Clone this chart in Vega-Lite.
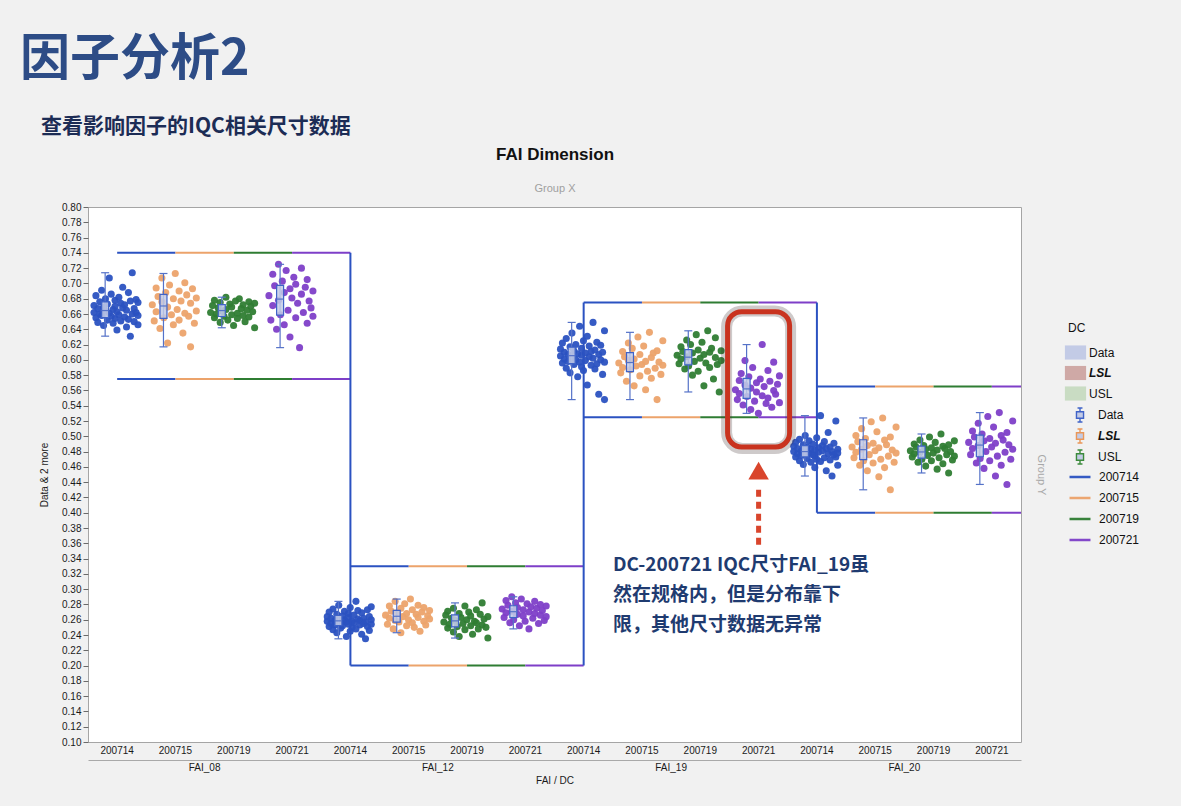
{
  "$schema": "https://vega.github.io/schema/vega-lite/v6.json",
  "width": 933,
  "height": 535,
  "autosize": {"type": "none"},
  "padding": {"left": 88, "top": 207, "right": 160, "bottom": 64},
  "background": "#f1f1f1",
  "title": {
    "text": "因子分析2",
    "subtitle": "\u200b\u3000查看影响因子的IQC相关尺寸数据",
    "anchor": "start",
    "frame": "group",
    "dx": -68,
    "offset": 8,
    "font": "Noto Sans CJK SC",
    "fontSize": 50,
    "fontWeight": "bold",
    "color": "#2d4c86",
    "subtitleFont": "Noto Sans CJK SC",
    "subtitleFontSize": 21,
    "subtitleFontWeight": "bold",
    "subtitleColor": "#1c2c55",
    "subtitlePadding": 31
  },
  "datasets": {
    "spec": [
      {"c": "FAI_08 200714", "usl": 0.74, "lsl": 0.575},
      {"c": "FAI_08 200715", "usl": 0.74, "lsl": 0.575},
      {"c": "FAI_08 200719", "usl": 0.74, "lsl": 0.575},
      {"c": "FAI_08 200721", "usl": 0.74, "lsl": 0.575},
      {"c": "FAI_12 200714", "usl": 0.33, "lsl": 0.2},
      {"c": "FAI_12 200715", "usl": 0.33, "lsl": 0.2},
      {"c": "FAI_12 200719", "usl": 0.33, "lsl": 0.2},
      {"c": "FAI_12 200721", "usl": 0.33, "lsl": 0.2},
      {"c": "FAI_19 200714", "usl": 0.675, "lsl": 0.525},
      {"c": "FAI_19 200715", "usl": 0.675, "lsl": 0.525},
      {"c": "FAI_19 200719", "usl": 0.675, "lsl": 0.525},
      {"c": "FAI_19 200721", "usl": 0.675, "lsl": 0.525},
      {"c": "FAI_20 200714", "usl": 0.565, "lsl": 0.4},
      {"c": "FAI_20 200715", "usl": 0.565, "lsl": 0.4},
      {"c": "FAI_20 200719", "usl": 0.565, "lsl": 0.4},
      {"c": "FAI_20 200721", "usl": 0.565, "lsl": 0.4}
    ],
    "conn": [
      {"f": "FAI_12", "a": 0.74, "b": 0.2},
      {"f": "FAI_19", "a": 0.675, "b": 0.2},
      {"f": "FAI_20", "a": 0.675, "b": 0.4}
    ],
    "pts": [
      {"c":"FAI_08 200714","v":0.662},{"c":"FAI_08 200714","v":0.671},{"c":"FAI_08 200714","v":0.655},{"c":"FAI_08 200714","v":0.684},{"c":"FAI_08 200714","v":0.667},
      {"c":"FAI_08 200714","v":0.649},{"c":"FAI_08 200714","v":0.676},{"c":"FAI_08 200714","v":0.660},{"c":"FAI_08 200714","v":0.691},{"c":"FAI_08 200714","v":0.658},
      {"c":"FAI_08 200714","v":0.669},{"c":"FAI_08 200714","v":0.645},{"c":"FAI_08 200714","v":0.680},{"c":"FAI_08 200714","v":0.664},{"c":"FAI_08 200714","v":0.652},
      {"c":"FAI_08 200714","v":0.673},{"c":"FAI_08 200714","v":0.707},{"c":"FAI_08 200714","v":0.661},{"c":"FAI_08 200714","v":0.657},{"c":"FAI_08 200714","v":0.686},
      {"c":"FAI_08 200714","v":0.648},{"c":"FAI_08 200714","v":0.666},{"c":"FAI_08 200714","v":0.678},{"c":"FAI_08 200714","v":0.654},{"c":"FAI_08 200714","v":0.670},
      {"c":"FAI_08 200714","v":0.639},{"c":"FAI_08 200714","v":0.663},{"c":"FAI_08 200714","v":0.682},{"c":"FAI_08 200714","v":0.659},{"c":"FAI_08 200714","v":0.674},
      {"c":"FAI_08 200714","v":0.651},{"c":"FAI_08 200714","v":0.668},{"c":"FAI_08 200714","v":0.695},{"c":"FAI_08 200714","v":0.656},{"c":"FAI_08 200714","v":0.672},
      {"c":"FAI_08 200714","v":0.643},{"c":"FAI_08 200714","v":0.665},{"c":"FAI_08 200714","v":0.688},{"c":"FAI_08 200714","v":0.653},{"c":"FAI_08 200714","v":0.677},
      {"c":"FAI_08 200714","v":0.631},{"c":"FAI_08 200714","v":0.660},{"c":"FAI_08 200714","v":0.714},{"c":"FAI_08 200714","v":0.667},{"c":"FAI_08 200714","v":0.650},
      {"c":"FAI_08 200714","v":0.679},{"c":"FAI_08 200714","v":0.662},{"c":"FAI_08 200714","v":0.646},{"c":"FAI_08 200714","v":0.675},{"c":"FAI_08 200714","v":0.658},
      {"c":"FAI_08 200715","v":0.672},{"c":"FAI_08 200715","v":0.651},{"c":"FAI_08 200715","v":0.694},{"c":"FAI_08 200715","v":0.663},{"c":"FAI_08 200715","v":0.683},
      {"c":"FAI_08 200715","v":0.641},{"c":"FAI_08 200715","v":0.707},{"c":"FAI_08 200715","v":0.676},{"c":"FAI_08 200715","v":0.655},{"c":"FAI_08 200715","v":0.688},
      {"c":"FAI_08 200715","v":0.622},{"c":"FAI_08 200715","v":0.669},{"c":"FAI_08 200715","v":0.698},{"c":"FAI_08 200715","v":0.659},{"c":"FAI_08 200715","v":0.680},
      {"c":"FAI_08 200715","v":0.646},{"c":"FAI_08 200715","v":0.713},{"c":"FAI_08 200715","v":0.666},{"c":"FAI_08 200715","v":0.690},{"c":"FAI_08 200715","v":0.652},
      {"c":"FAI_08 200715","v":0.677},{"c":"FAI_08 200715","v":0.635},{"c":"FAI_08 200715","v":0.701},{"c":"FAI_08 200715","v":0.661},{"c":"FAI_08 200715","v":0.685},
      {"c":"FAI_08 200715","v":0.657},{"c":"FAI_08 200715","v":0.617},{"c":"FAI_08 200715","v":0.674},{"c":"FAI_08 200715","v":0.693},{"c":"FAI_08 200715","v":0.648},
      {"c":"FAI_08 200715","v":0.681},{"c":"FAI_08 200715","v":0.664},
      {"c":"FAI_08 200719","v":0.662},{"c":"FAI_08 200719","v":0.671},{"c":"FAI_08 200719","v":0.655},{"c":"FAI_08 200719","v":0.678},{"c":"FAI_08 200719","v":0.660},
      {"c":"FAI_08 200719","v":0.668},{"c":"FAI_08 200719","v":0.649},{"c":"FAI_08 200719","v":0.675},{"c":"FAI_08 200719","v":0.664},{"c":"FAI_08 200719","v":0.657},
      {"c":"FAI_08 200719","v":0.682},{"c":"FAI_08 200719","v":0.666},{"c":"FAI_08 200719","v":0.652},{"c":"FAI_08 200719","v":0.673},{"c":"FAI_08 200719","v":0.659},
      {"c":"FAI_08 200719","v":0.669},{"c":"FAI_08 200719","v":0.645},{"c":"FAI_08 200719","v":0.677},{"c":"FAI_08 200719","v":0.661},{"c":"FAI_08 200719","v":0.654},
      {"c":"FAI_08 200719","v":0.680},{"c":"FAI_08 200719","v":0.667},{"c":"FAI_08 200719","v":0.658},{"c":"FAI_08 200719","v":0.672},{"c":"FAI_08 200719","v":0.650},
      {"c":"FAI_08 200719","v":0.665},{"c":"FAI_08 200719","v":0.676},{"c":"FAI_08 200719","v":0.656},{"c":"FAI_08 200719","v":0.670},{"c":"FAI_08 200719","v":0.663},
      {"c":"FAI_08 200719","v":0.642},{"c":"FAI_08 200719","v":0.674},
      {"c":"FAI_08 200721","v":0.684},{"c":"FAI_08 200721","v":0.652},{"c":"FAI_08 200721","v":0.712},{"c":"FAI_08 200721","v":0.671},{"c":"FAI_08 200721","v":0.697},
      {"c":"FAI_08 200721","v":0.640},{"c":"FAI_08 200721","v":0.725},{"c":"FAI_08 200721","v":0.678},{"c":"FAI_08 200721","v":0.659},{"c":"FAI_08 200721","v":0.703},
      {"c":"FAI_08 200721","v":0.688},{"c":"FAI_08 200721","v":0.646},{"c":"FAI_08 200721","v":0.717},{"c":"FAI_08 200721","v":0.665},{"c":"FAI_08 200721","v":0.693},
      {"c":"FAI_08 200721","v":0.630},{"c":"FAI_08 200721","v":0.681},{"c":"FAI_08 200721","v":0.708},{"c":"FAI_08 200721","v":0.655},{"c":"FAI_08 200721","v":0.699},
      {"c":"FAI_08 200721","v":0.674},{"c":"FAI_08 200721","v":0.616},{"c":"FAI_08 200721","v":0.720},{"c":"FAI_08 200721","v":0.686},{"c":"FAI_08 200721","v":0.662},
      {"c":"FAI_08 200721","v":0.695},{"c":"FAI_08 200721","v":0.648},{"c":"FAI_08 200721","v":0.705},{"c":"FAI_08 200721","v":0.677},{"c":"FAI_08 200721","v":0.668},
      {"c":"FAI_08 200721","v":0.690},{"c":"FAI_08 200721","v":0.657},
      {"c":"FAI_12 200714","v":0.258},{"c":"FAI_12 200714","v":0.264},{"c":"FAI_12 200714","v":0.251},{"c":"FAI_12 200714","v":0.270},{"c":"FAI_12 200714","v":0.255},
      {"c":"FAI_12 200714","v":0.262},{"c":"FAI_12 200714","v":0.247},{"c":"FAI_12 200714","v":0.274},{"c":"FAI_12 200714","v":0.259},{"c":"FAI_12 200714","v":0.253},
      {"c":"FAI_12 200714","v":0.267},{"c":"FAI_12 200714","v":0.243},{"c":"FAI_12 200714","v":0.261},{"c":"FAI_12 200714","v":0.279},{"c":"FAI_12 200714","v":0.256},
      {"c":"FAI_12 200714","v":0.249},{"c":"FAI_12 200714","v":0.265},{"c":"FAI_12 200714","v":0.252},{"c":"FAI_12 200714","v":0.271},{"c":"FAI_12 200714","v":0.260},
      {"c":"FAI_12 200714","v":0.238},{"c":"FAI_12 200714","v":0.257},{"c":"FAI_12 200714","v":0.268},{"c":"FAI_12 200714","v":0.254},{"c":"FAI_12 200714","v":0.263},
      {"c":"FAI_12 200714","v":0.245},{"c":"FAI_12 200714","v":0.276},{"c":"FAI_12 200714","v":0.258},{"c":"FAI_12 200714","v":0.250},{"c":"FAI_12 200714","v":0.266},
      {"c":"FAI_12 200714","v":0.256},{"c":"FAI_12 200714","v":0.284},{"c":"FAI_12 200714","v":0.248},{"c":"FAI_12 200714","v":0.261},{"c":"FAI_12 200714","v":0.272},
      {"c":"FAI_12 200714","v":0.253},{"c":"FAI_12 200714","v":0.259},{"c":"FAI_12 200714","v":0.241},{"c":"FAI_12 200714","v":0.269},{"c":"FAI_12 200714","v":0.255},
      {"c":"FAI_12 200714","v":0.262},{"c":"FAI_12 200714","v":0.235},{"c":"FAI_12 200714","v":0.257},{"c":"FAI_12 200714","v":0.273},{"c":"FAI_12 200714","v":0.251},
      {"c":"FAI_12 200714","v":0.264},{"c":"FAI_12 200714","v":0.246},{"c":"FAI_12 200714","v":0.260},{"c":"FAI_12 200714","v":0.277},{"c":"FAI_12 200714","v":0.254},
      {"c":"FAI_12 200715","v":0.266},{"c":"FAI_12 200715","v":0.254},{"c":"FAI_12 200715","v":0.278},{"c":"FAI_12 200715","v":0.262},{"c":"FAI_12 200715","v":0.271},
      {"c":"FAI_12 200715","v":0.248},{"c":"FAI_12 200715","v":0.284},{"c":"FAI_12 200715","v":0.259},{"c":"FAI_12 200715","v":0.269},{"c":"FAI_12 200715","v":0.257},
      {"c":"FAI_12 200715","v":0.275},{"c":"FAI_12 200715","v":0.243},{"c":"FAI_12 200715","v":0.264},{"c":"FAI_12 200715","v":0.281},{"c":"FAI_12 200715","v":0.252},
      {"c":"FAI_12 200715","v":0.268},{"c":"FAI_12 200715","v":0.260},{"c":"FAI_12 200715","v":0.287},{"c":"FAI_12 200715","v":0.256},{"c":"FAI_12 200715","v":0.273},
      {"c":"FAI_12 200715","v":0.250},{"c":"FAI_12 200715","v":0.267},{"c":"FAI_12 200715","v":0.263},{"c":"FAI_12 200715","v":0.279},{"c":"FAI_12 200715","v":0.245},
      {"c":"FAI_12 200715","v":0.270},{"c":"FAI_12 200715","v":0.258},{"c":"FAI_12 200715","v":0.276},{"c":"FAI_12 200715","v":0.253},{"c":"FAI_12 200715","v":0.265},
      {"c":"FAI_12 200715","v":0.261},{"c":"FAI_12 200715","v":0.272},
      {"c":"FAI_12 200719","v":0.257},{"c":"FAI_12 200719","v":0.266},{"c":"FAI_12 200719","v":0.249},{"c":"FAI_12 200719","v":0.271},{"c":"FAI_12 200719","v":0.254},
      {"c":"FAI_12 200719","v":0.262},{"c":"FAI_12 200719","v":0.244},{"c":"FAI_12 200719","v":0.275},{"c":"FAI_12 200719","v":0.259},{"c":"FAI_12 200719","v":0.251},
      {"c":"FAI_12 200719","v":0.268},{"c":"FAI_12 200719","v":0.238},{"c":"FAI_12 200719","v":0.263},{"c":"FAI_12 200719","v":0.255},{"c":"FAI_12 200719","v":0.278},
      {"c":"FAI_12 200719","v":0.247},{"c":"FAI_12 200719","v":0.260},{"c":"FAI_12 200719","v":0.270},{"c":"FAI_12 200719","v":0.252},{"c":"FAI_12 200719","v":0.265},
      {"c":"FAI_12 200719","v":0.241},{"c":"FAI_12 200719","v":0.258},{"c":"FAI_12 200719","v":0.273},{"c":"FAI_12 200719","v":0.256},{"c":"FAI_12 200719","v":0.248},
      {"c":"FAI_12 200719","v":0.267},{"c":"FAI_12 200719","v":0.253},{"c":"FAI_12 200719","v":0.282},{"c":"FAI_12 200719","v":0.261},{"c":"FAI_12 200719","v":0.250},
      {"c":"FAI_12 200719","v":0.264},{"c":"FAI_12 200719","v":0.236},
      {"c":"FAI_12 200721","v":0.274},{"c":"FAI_12 200721","v":0.263},{"c":"FAI_12 200721","v":0.285},{"c":"FAI_12 200721","v":0.269},{"c":"FAI_12 200721","v":0.279},
      {"c":"FAI_12 200721","v":0.256},{"c":"FAI_12 200721","v":0.290},{"c":"FAI_12 200721","v":0.271},{"c":"FAI_12 200721","v":0.260},{"c":"FAI_12 200721","v":0.282},
      {"c":"FAI_12 200721","v":0.267},{"c":"FAI_12 200721","v":0.276},{"c":"FAI_12 200721","v":0.252},{"c":"FAI_12 200721","v":0.287},{"c":"FAI_12 200721","v":0.265},
      {"c":"FAI_12 200721","v":0.273},{"c":"FAI_12 200721","v":0.258},{"c":"FAI_12 200721","v":0.281},{"c":"FAI_12 200721","v":0.270},{"c":"FAI_12 200721","v":0.248},
      {"c":"FAI_12 200721","v":0.277},{"c":"FAI_12 200721","v":0.262},{"c":"FAI_12 200721","v":0.284},{"c":"FAI_12 200721","v":0.268},{"c":"FAI_12 200721","v":0.275},
      {"c":"FAI_12 200721","v":0.255},{"c":"FAI_12 200721","v":0.280},{"c":"FAI_12 200721","v":0.266},{"c":"FAI_12 200721","v":0.272},{"c":"FAI_12 200721","v":0.259},
      {"c":"FAI_12 200721","v":0.278},{"c":"FAI_12 200721","v":0.264},
      {"c":"FAI_19 200714","v":0.605},{"c":"FAI_19 200714","v":0.614},{"c":"FAI_19 200714","v":0.596},{"c":"FAI_19 200714","v":0.622},{"c":"FAI_19 200714","v":0.601},
      {"c":"FAI_19 200714","v":0.610},{"c":"FAI_19 200714","v":0.589},{"c":"FAI_19 200714","v":0.628},{"c":"FAI_19 200714","v":0.607},{"c":"FAI_19 200714","v":0.598},
      {"c":"FAI_19 200714","v":0.617},{"c":"FAI_19 200714","v":0.583},{"c":"FAI_19 200714","v":0.603},{"c":"FAI_19 200714","v":0.635},{"c":"FAI_19 200714","v":0.594},
      {"c":"FAI_19 200714","v":0.612},{"c":"FAI_19 200714","v":0.600},{"c":"FAI_19 200714","v":0.620},{"c":"FAI_19 200714","v":0.578},{"c":"FAI_19 200714","v":0.608},
      {"c":"FAI_19 200714","v":0.644},{"c":"FAI_19 200714","v":0.597},{"c":"FAI_19 200714","v":0.615},{"c":"FAI_19 200714","v":0.591},{"c":"FAI_19 200714","v":0.606},
      {"c":"FAI_19 200714","v":0.625},{"c":"FAI_19 200714","v":0.586},{"c":"FAI_19 200714","v":0.609},{"c":"FAI_19 200714","v":0.599},{"c":"FAI_19 200714","v":0.631},
      {"c":"FAI_19 200714","v":0.567},{"c":"FAI_19 200714","v":0.604},{"c":"FAI_19 200714","v":0.618},{"c":"FAI_19 200714","v":0.593},{"c":"FAI_19 200714","v":0.611},
      {"c":"FAI_19 200714","v":0.602},{"c":"FAI_19 200714","v":0.649},{"c":"FAI_19 200714","v":0.588},{"c":"FAI_19 200714","v":0.613},{"c":"FAI_19 200714","v":0.595},
      {"c":"FAI_19 200714","v":0.623},{"c":"FAI_19 200714","v":0.555},{"c":"FAI_19 200714","v":0.607},{"c":"FAI_19 200714","v":0.600},{"c":"FAI_19 200714","v":0.619},
      {"c":"FAI_19 200714","v":0.581},{"c":"FAI_19 200714","v":0.610},{"c":"FAI_19 200714","v":0.597},{"c":"FAI_19 200714","v":0.638},{"c":"FAI_19 200714","v":0.548},
      {"c":"FAI_19 200715","v":0.596},{"c":"FAI_19 200715","v":0.583},{"c":"FAI_19 200715","v":0.611},{"c":"FAI_19 200715","v":0.590},{"c":"FAI_19 200715","v":0.604},
      {"c":"FAI_19 200715","v":0.572},{"c":"FAI_19 200715","v":0.622},{"c":"FAI_19 200715","v":0.599},{"c":"FAI_19 200715","v":0.587},{"c":"FAI_19 200715","v":0.615},
      {"c":"FAI_19 200715","v":0.566},{"c":"FAI_19 200715","v":0.601},{"c":"FAI_19 200715","v":0.592},{"c":"FAI_19 200715","v":0.630},{"c":"FAI_19 200715","v":0.579},
      {"c":"FAI_19 200715","v":0.607},{"c":"FAI_19 200715","v":0.594},{"c":"FAI_19 200715","v":0.618},{"c":"FAI_19 200715","v":0.561},{"c":"FAI_19 200715","v":0.598},
      {"c":"FAI_19 200715","v":0.585},{"c":"FAI_19 200715","v":0.636},{"c":"FAI_19 200715","v":0.603},{"c":"FAI_19 200715","v":0.576},{"c":"FAI_19 200715","v":0.609},
      {"c":"FAI_19 200715","v":0.589},{"c":"FAI_19 200715","v":0.548},{"c":"FAI_19 200715","v":0.612},{"c":"FAI_19 200715","v":0.597},{"c":"FAI_19 200715","v":0.581},
      {"c":"FAI_19 200715","v":0.625},{"c":"FAI_19 200715","v":0.593},
      {"c":"FAI_19 200719","v":0.606},{"c":"FAI_19 200719","v":0.595},{"c":"FAI_19 200719","v":0.617},{"c":"FAI_19 200719","v":0.601},{"c":"FAI_19 200719","v":0.611},
      {"c":"FAI_19 200719","v":0.588},{"c":"FAI_19 200719","v":0.626},{"c":"FAI_19 200719","v":0.604},{"c":"FAI_19 200719","v":0.592},{"c":"FAI_19 200719","v":0.620},
      {"c":"FAI_19 200719","v":0.580},{"c":"FAI_19 200719","v":0.609},{"c":"FAI_19 200719","v":0.598},{"c":"FAI_19 200719","v":0.633},{"c":"FAI_19 200719","v":0.585},
      {"c":"FAI_19 200719","v":0.613},{"c":"FAI_19 200719","v":0.602},{"c":"FAI_19 200719","v":0.623},{"c":"FAI_19 200719","v":0.566},{"c":"FAI_19 200719","v":0.607},
      {"c":"FAI_19 200719","v":0.596},{"c":"FAI_19 200719","v":0.638},{"c":"FAI_19 200719","v":0.610},{"c":"FAI_19 200719","v":0.590},{"c":"FAI_19 200719","v":0.615},
      {"c":"FAI_19 200719","v":0.575},{"c":"FAI_19 200719","v":0.603},{"c":"FAI_19 200719","v":0.629},{"c":"FAI_19 200719","v":0.594},{"c":"FAI_19 200719","v":0.558},
      {"c":"FAI_19 200719","v":0.612},{"c":"FAI_19 200719","v":0.599},
      {"c":"FAI_19 200721","v":0.561},{"c":"FAI_19 200721","v":0.548},{"c":"FAI_19 200721","v":0.573},{"c":"FAI_19 200721","v":0.556},{"c":"FAI_19 200721","v":0.582},
      {"c":"FAI_19 200721","v":0.541},{"c":"FAI_19 200721","v":0.567},{"c":"FAI_19 200721","v":0.599},{"c":"FAI_19 200721","v":0.552},{"c":"FAI_19 200721","v":0.578},
      {"c":"FAI_19 200721","v":0.535},{"c":"FAI_19 200721","v":0.563},{"c":"FAI_19 200721","v":0.590},{"c":"FAI_19 200721","v":0.546},{"c":"FAI_19 200721","v":0.570},
      {"c":"FAI_19 200721","v":0.558},{"c":"FAI_19 200721","v":0.530},{"c":"FAI_19 200721","v":0.575},{"c":"FAI_19 200721","v":0.553},{"c":"FAI_19 200721","v":0.620},
      {"c":"FAI_19 200721","v":0.565},{"c":"FAI_19 200721","v":0.543},{"c":"FAI_19 200721","v":0.586},{"c":"FAI_19 200721","v":0.550},{"c":"FAI_19 200721","v":0.572},
      {"c":"FAI_19 200721","v":0.538},{"c":"FAI_19 200721","v":0.560},{"c":"FAI_19 200721","v":0.597},{"c":"FAI_19 200721","v":0.555},{"c":"FAI_19 200721","v":0.568},
      {"c":"FAI_19 200721","v":0.544},{"c":"FAI_19 200721","v":0.579},
      {"c":"FAI_20 200714","v":0.480},{"c":"FAI_20 200714","v":0.487},{"c":"FAI_20 200714","v":0.473},{"c":"FAI_20 200714","v":0.492},{"c":"FAI_20 200714","v":0.477},
      {"c":"FAI_20 200714","v":0.484},{"c":"FAI_20 200714","v":0.468},{"c":"FAI_20 200714","v":0.496},{"c":"FAI_20 200714","v":0.481},{"c":"FAI_20 200714","v":0.475},
      {"c":"FAI_20 200714","v":0.489},{"c":"FAI_20 200714","v":0.463},{"c":"FAI_20 200714","v":0.479},{"c":"FAI_20 200714","v":0.501},{"c":"FAI_20 200714","v":0.471},
      {"c":"FAI_20 200714","v":0.486},{"c":"FAI_20 200714","v":0.478},{"c":"FAI_20 200714","v":0.494},{"c":"FAI_20 200714","v":0.466},{"c":"FAI_20 200714","v":0.483},
      {"c":"FAI_20 200714","v":0.476},{"c":"FAI_20 200714","v":0.490},{"c":"FAI_20 200714","v":0.459},{"c":"FAI_20 200714","v":0.482},{"c":"FAI_20 200714","v":0.474},
      {"c":"FAI_20 200714","v":0.498},{"c":"FAI_20 200714","v":0.470},{"c":"FAI_20 200714","v":0.485},{"c":"FAI_20 200714","v":0.479},{"c":"FAI_20 200714","v":0.527},
      {"c":"FAI_20 200714","v":0.467},{"c":"FAI_20 200714","v":0.488},{"c":"FAI_20 200714","v":0.481},{"c":"FAI_20 200714","v":0.472},{"c":"FAI_20 200714","v":0.493},
      {"c":"FAI_20 200714","v":0.455},{"c":"FAI_20 200714","v":0.484},{"c":"FAI_20 200714","v":0.477},{"c":"FAI_20 200714","v":0.505},{"c":"FAI_20 200714","v":0.469},
      {"c":"FAI_20 200714","v":0.486},{"c":"FAI_20 200714","v":0.480},{"c":"FAI_20 200714","v":0.448},{"c":"FAI_20 200714","v":0.491},{"c":"FAI_20 200714","v":0.476},
      {"c":"FAI_20 200714","v":0.520},{"c":"FAI_20 200714","v":0.473},{"c":"FAI_20 200714","v":0.483},{"c":"FAI_20 200714","v":0.478},{"c":"FAI_20 200714","v":0.462},
      {"c":"FAI_20 200715","v":0.486},{"c":"FAI_20 200715","v":0.472},{"c":"FAI_20 200715","v":0.501},{"c":"FAI_20 200715","v":0.479},{"c":"FAI_20 200715","v":0.493},
      {"c":"FAI_20 200715","v":0.462},{"c":"FAI_20 200715","v":0.510},{"c":"FAI_20 200715","v":0.483},{"c":"FAI_20 200715","v":0.468},{"c":"FAI_20 200715","v":0.497},
      {"c":"FAI_20 200715","v":0.455},{"c":"FAI_20 200715","v":0.488},{"c":"FAI_20 200715","v":0.476},{"c":"FAI_20 200715","v":0.519},{"c":"FAI_20 200715","v":0.465},
      {"c":"FAI_20 200715","v":0.491},{"c":"FAI_20 200715","v":0.481},{"c":"FAI_20 200715","v":0.506},{"c":"FAI_20 200715","v":0.447},{"c":"FAI_20 200715","v":0.485},
      {"c":"FAI_20 200715","v":0.470},{"c":"FAI_20 200715","v":0.524},{"c":"FAI_20 200715","v":0.495},{"c":"FAI_20 200715","v":0.459},{"c":"FAI_20 200715","v":0.489},
      {"c":"FAI_20 200715","v":0.474},{"c":"FAI_20 200715","v":0.430},{"c":"FAI_20 200715","v":0.499},{"c":"FAI_20 200715","v":0.482},{"c":"FAI_20 200715","v":0.466},
      {"c":"FAI_20 200715","v":0.512},{"c":"FAI_20 200715","v":0.478},
      {"c":"FAI_20 200719","v":0.481},{"c":"FAI_20 200719","v":0.473},{"c":"FAI_20 200719","v":0.490},{"c":"FAI_20 200719","v":0.477},{"c":"FAI_20 200719","v":0.486},
      {"c":"FAI_20 200719","v":0.466},{"c":"FAI_20 200719","v":0.495},{"c":"FAI_20 200719","v":0.479},{"c":"FAI_20 200719","v":0.470},{"c":"FAI_20 200719","v":0.488},
      {"c":"FAI_20 200719","v":0.461},{"c":"FAI_20 200719","v":0.483},{"c":"FAI_20 200719","v":0.475},{"c":"FAI_20 200719","v":0.499},{"c":"FAI_20 200719","v":0.468},
      {"c":"FAI_20 200719","v":0.485},{"c":"FAI_20 200719","v":0.478},{"c":"FAI_20 200719","v":0.492},{"c":"FAI_20 200719","v":0.457},{"c":"FAI_20 200719","v":0.482},
      {"c":"FAI_20 200719","v":0.472},{"c":"FAI_20 200719","v":0.503},{"c":"FAI_20 200719","v":0.487},{"c":"FAI_20 200719","v":0.464},{"c":"FAI_20 200719","v":0.484},
      {"c":"FAI_20 200719","v":0.476},{"c":"FAI_20 200719","v":0.452},{"c":"FAI_20 200719","v":0.489},{"c":"FAI_20 200719","v":0.480},{"c":"FAI_20 200719","v":0.469},
      {"c":"FAI_20 200719","v":0.494},{"c":"FAI_20 200719","v":0.474},
      {"c":"FAI_20 200721","v":0.492},{"c":"FAI_20 200721","v":0.476},{"c":"FAI_20 200721","v":0.507},{"c":"FAI_20 200721","v":0.484},{"c":"FAI_20 200721","v":0.499},
      {"c":"FAI_20 200721","v":0.465},{"c":"FAI_20 200721","v":0.517},{"c":"FAI_20 200721","v":0.488},{"c":"FAI_20 200721","v":0.471},{"c":"FAI_20 200721","v":0.503},
      {"c":"FAI_20 200721","v":0.458},{"c":"FAI_20 200721","v":0.494},{"c":"FAI_20 200721","v":0.480},{"c":"FAI_20 200721","v":0.526},{"c":"FAI_20 200721","v":0.468},
      {"c":"FAI_20 200721","v":0.497},{"c":"FAI_20 200721","v":0.486},{"c":"FAI_20 200721","v":0.512},{"c":"FAI_20 200721","v":0.448},{"c":"FAI_20 200721","v":0.491},
      {"c":"FAI_20 200721","v":0.474},{"c":"FAI_20 200721","v":0.531},{"c":"FAI_20 200721","v":0.501},{"c":"FAI_20 200721","v":0.462},{"c":"FAI_20 200721","v":0.495},
      {"c":"FAI_20 200721","v":0.479},{"c":"FAI_20 200721","v":0.437},{"c":"FAI_20 200721","v":0.505},{"c":"FAI_20 200721","v":0.489},{"c":"FAI_20 200721","v":0.470},
      {"c":"FAI_20 200721","v":0.520},{"c":"FAI_20 200721","v":0.483}
    ]
  },
  "layer": [
    {
      "layer": [
        {
          "data": {"name": "spec"},
          "transform": [{"fold": ["usl", "lsl"], "as": ["lim", "lv"]}],
          "mark": {"type": "rule", "strokeWidth": 2, "x2Offset": 58.3, "clip": true},
          "encoding": {
            "x": {
              "field": "c", "type": "nominal", "bandPosition": 0.5,
              "scale": {"type": "band", "paddingInner": 0, "paddingOuter": 0,
                "domain": ["FAI_08 200714","FAI_08 200715","FAI_08 200719","FAI_08 200721","FAI_12 200714","FAI_12 200715","FAI_12 200719","FAI_12 200721","FAI_19 200714","FAI_19 200715","FAI_19 200719","FAI_19 200721","FAI_20 200714","FAI_20 200715","FAI_20 200719","FAI_20 200721"]},
              "axis": {"orient": "top", "title": "Group X", "labels": false, "ticks": false, "domain": false, "titlePadding": 14, "titleColor": "#a0a0a0", "titleFontSize": 11, "titleFontWeight": "normal"}
            },
            "x2": {"field": "c", "bandPosition": 0.5},
            "y": {"field": "lv", "type": "quantitative", "axis": null},
            "color": {
              "field": "c", "type": "nominal",
              "scale": {
                "domain": ["FAI_08 200714","FAI_08 200715","FAI_08 200719","FAI_08 200721","FAI_12 200714","FAI_12 200715","FAI_12 200719","FAI_12 200721","FAI_19 200714","FAI_19 200715","FAI_19 200719","FAI_19 200721","FAI_20 200714","FAI_20 200715","FAI_20 200719","FAI_20 200721"],
                "range": ["#2b52c1","#eca36b","#2f7d33","#7e3fc8","#2b52c1","#eca36b","#2f7d33","#7e3fc8","#2b52c1","#eca36b","#2f7d33","#7e3fc8","#2b52c1","#eca36b","#2f7d33","#7e3fc8"]
              },
              "legend": {
                "orient": "none", "legendX": 980, "legendY": 258, "title": null,
                "values": ["FAI_08 200714","FAI_08 200715","FAI_08 200719","FAI_08 200721"],
                "labelExpr": "split(datum.label, ' ')[1]",
                "symbolType": "stroke", "symbolStrokeWidth": 2.5, "symbolSize": 440,
                "rowPadding": 3, "labelOffset": 7
              }
            }
          }
        },
        {
          "data": {"name": "pts"},
          "transform": [{"window": [{"op": "ntile", "param": 24, "as": "slot"}], "groupby": ["c"]}],
          "mark": {"type": "circle", "size": 50, "opacity": 0.95},
          "encoding": {
            "x": {
              "field": "c", "type": "nominal",
              "scale": {"type": "band", "paddingInner": 0, "paddingOuter": 0,
                "domain": ["FAI_08 200714","FAI_08 200715","FAI_08 200719","FAI_08 200721","FAI_12 200714","FAI_12 200715","FAI_12 200719","FAI_12 200721","FAI_19 200714","FAI_19 200715","FAI_19 200719","FAI_19 200721","FAI_20 200714","FAI_20 200715","FAI_20 200719","FAI_20 200721"]},
              "axis": {"orient": "bottom", "title": null, "labelExpr": "split(datum.label, ' ')[1]", "labelAngle": 0, "labelFontSize": 10, "ticks": false, "domain": false, "labelPadding": 3}
            },
            "xOffset": {"field": "slot", "type": "quantitative", "scale": {"domain": [1, 24], "range": [6, 50]}},
            "y": {
              "field": "v", "type": "quantitative",
              "scale": {"domain": [0.1, 0.8], "nice": false, "zero": false},
              "axis": {
                "orient": "left",
                "values": [0.1,0.12,0.14,0.16,0.18,0.2,0.22,0.24,0.26,0.28,0.3,0.32,0.34,0.36,0.38,0.4,0.42,0.44,0.46,0.48,0.5,0.52,0.54,0.56,0.58,0.6,0.62,0.64,0.66,0.68,0.7,0.72,0.74,0.76,0.78,0.8],
                "format": ".2f", "labelFontSize": 10, "labelOverlap": false, "labelFlush": false,
                "ticks": true, "tickSize": 5, "tickColor": "#6a6a6a", "domain": false, "grid": false,
                "title": "Data & 2 more", "titleFontSize": 10, "titleFontWeight": "normal", "titlePadding": 12
              }
            },
            "color": {
              "field": "c", "type": "nominal",
              "scale": {
                "domain": ["FAI_08 200714","FAI_08 200715","FAI_08 200719","FAI_08 200721","FAI_12 200714","FAI_12 200715","FAI_12 200719","FAI_12 200721","FAI_19 200714","FAI_19 200715","FAI_19 200719","FAI_19 200721","FAI_20 200714","FAI_20 200715","FAI_20 200719","FAI_20 200721"],
                "range": ["#2b52c1","#eca36b","#2f7d33","#7e3fc8","#2b52c1","#eca36b","#2f7d33","#7e3fc8","#2b52c1","#eca36b","#2f7d33","#7e3fc8","#2b52c1","#eca36b","#2f7d33","#7e3fc8"]
              }
            }
          }
        },
        {
          "data": {"name": "pts"},
          "transform": [{"aggregate": [
            {"op": "q1", "field": "v", "as": "q1"},
            {"op": "q3", "field": "v", "as": "q3"},
            {"op": "median", "field": "v", "as": "med"},
            {"op": "min", "field": "v", "as": "lo"},
            {"op": "max", "field": "v", "as": "hi"}
          ], "groupby": ["c"]}],
          "layer": [
            {
              "mark": {"type": "rule", "xOffset": -12, "color": "#5572c8", "strokeWidth": 1.2},
              "encoding": {
                "x": {"field": "c", "type": "nominal", "axis": null},
                "y": {"field": "lo", "type": "quantitative", "axis": null},
                "y2": {"field": "hi"}
              }
            },
            {
              "mark": {"type": "bar", "width": 7, "xOffset": -12, "strokeWidth": 1.2, "fillOpacity": 0.85},
              "encoding": {
                "x": {"field": "c", "type": "nominal", "axis": null},
                "y": {"field": "q1", "type": "quantitative", "axis": null},
                "y2": {"field": "q3"},
                "fill": {
                  "datum": "Data",
                  "scale": {"domain": ["Data", "LSL", "USL"], "range": ["#c3cbe6", "#cfa9a6", "#c9dcc3"]},
                  "legend": {
                    "orient": "none", "legendX": 980, "legendY": 116, "title": "DC",
                    "titlePadding": 10, "rowPadding": 5.5, "labelOffset": 6,
                    "symbolType": "M-1.5,-1H1.5V1H-1.5Z", "symbolSize": 200,
                    "symbolStrokeColor": "transparent", "symbolStrokeWidth": 0,
                    "labelFontWeight": {"expr": "datum.label == 'LSL' ? 'bold' : 'normal'"},
                    "labelFontStyle": {"expr": "datum.label == 'LSL' ? 'italic' : 'normal'"}
                  }
                },
                "stroke": {
                  "datum": "Data ",
                  "scale": {"domain": ["Data ", "LSL ", "USL "], "range": ["#3f63c8", "#ea9758", "#3b8a3b"]},
                  "legend": {
                    "orient": "none", "legendX": 984, "legendY": 200, "title": null,
                    "rowPadding": 1, "labelOffset": 10,
                    "symbolType": "M-0.35,-1H0.35M0,-1V-0.45M-0.5,-0.45H0.5V0.45H-0.5ZM0,0.45V1M-0.35,1H0.35",
                    "symbolSize": 200, "symbolFillColor": "transparent", "symbolStrokeWidth": 1.4,
                    "labelFontWeight": {"expr": "datum.label == 'LSL ' ? 'bold' : 'normal'"},
                    "labelFontStyle": {"expr": "datum.label == 'LSL ' ? 'italic' : 'normal'"}
                  }
                }
              }
            },
            {
              "mark": {"type": "tick", "size": 8, "thickness": 1.2, "xOffset": -12, "color": "#5572c8", "opacity": 1},
              "encoding": {
                "x": {"field": "c", "type": "nominal", "axis": null},
                "y": {"field": "lo", "type": "quantitative", "axis": null}
              }
            },
            {
              "mark": {"type": "tick", "size": 8, "thickness": 1.2, "xOffset": -12, "color": "#5572c8", "opacity": 1},
              "encoding": {
                "x": {"field": "c", "type": "nominal", "axis": null},
                "y": {"field": "hi", "type": "quantitative", "axis": null}
              }
            },
            {
              "mark": {"type": "tick", "size": 7, "thickness": 1.2, "xOffset": -12, "color": "#5572c8", "opacity": 1},
              "encoding": {
                "x": {"field": "c", "type": "nominal", "axis": null},
                "y": {"field": "med", "type": "quantitative", "axis": null}
              }
            }
          ]
        },
        {
          "data": {"values": [{}]},
          "mark": {
            "type": "text",
            "text": ["DC-200721 IQC尺寸FAI_19虽", "然在规格内，但是分布靠下", "限，其他尺寸数据无异常"],
            "align": "left", "baseline": "top", "dx": -29, "lineHeight": 30,
            "font": "Noto Sans CJK SC", "fontSize": 19, "fontWeight": "bold", "color": "#1f3b70"
          },
          "encoding": {
            "x": {"datum": "FAI_19 200715", "axis": null},
            "y": {"datum": 0.343, "axis": null}
          }
        },
        {
          "data": {"values": [{}]},
          "mark": {"type": "rule", "color": "#d9452c", "strokeWidth": 5, "strokeDash": [7, 5]},
          "encoding": {
            "x": {"datum": "FAI_19 200721", "axis": null},
            "y": {"datum": 0.43, "axis": null},
            "y2": {"datum": 0.357}
          }
        },
        {
          "data": {"values": [{}]},
          "mark": {"type": "point", "shape": "triangle-up", "filled": true, "size": 420, "color": "#d9452c", "opacity": 1},
          "encoding": {
            "x": {"datum": "FAI_19 200721", "axis": null},
            "y": {"datum": 0.455, "axis": null}
          }
        },
        {
          "data": {"values": [{}]},
          "mark": {"type": "rect", "width": 64, "fill": "transparent", "stroke": "#3a2a2a", "strokeOpacity": 0.25, "strokeWidth": 11, "cornerRadius": 16},
          "encoding": {
            "x": {"datum": "FAI_19 200721", "axis": null},
            "y": {"datum": 0.664, "axis": null},
            "y2": {"datum": 0.484}
          }
        },
        {
          "data": {"values": [{}]},
          "mark": {"type": "rect", "width": 62, "fill": "transparent", "stroke": "#c9331f", "strokeWidth": 5, "cornerRadius": 14},
          "encoding": {
            "x": {"datum": "FAI_19 200721",
              "axis": {"orient": "top", "title": "FAI Dimension", "labels": false, "ticks": false, "domain": false, "titlePadding": 44, "titleFontSize": 17, "titleFontWeight": "bold", "titleColor": "#111111"}},
            "y": {"datum": 0.663, "axis": null},
            "y2": {"datum": 0.486}
          }
        }
      ],
      "resolve": {"axis": {"x": "independent", "y": "independent"}}
    },
    {
      "data": {"name": "conn"},
      "mark": {"type": "rule", "strokeWidth": 2, "color": "#2b52c1", "xOffset": 29.16},
      "encoding": {
        "x": {
          "field": "f", "type": "nominal", "bandPosition": 0,
          "scale": {"type": "band", "domain": ["FAI_08", "FAI_12", "FAI_19", "FAI_20"], "paddingInner": 0, "paddingOuter": 0},
          "axis": {"orient": "bottom", "offset": 18, "title": "FAI / DC", "labelAngle": 0, "labelFontSize": 10, "ticks": false, "domain": true, "domainColor": "#a9a9a9", "labelPadding": 2, "titlePadding": 3, "titleFontSize": 10, "titleFontWeight": "normal"}
        },
        "y": {
          "field": "a", "type": "quantitative",
          "axis": {"orient": "right", "title": "Group Y", "labels": false, "ticks": false, "domain": false, "titleColor": "#a8a8a8", "titleFontSize": 11, "titleFontWeight": "normal", "titlePadding": 14}
        },
        "y2": {"field": "b"}
      }
    }
  ],
  "resolve": {"scale": {"x": "independent"}, "axis": {"x": "independent", "y": "independent"}},
  "config": {
    "font": "Liberation Sans",
    "view": {"fill": "#ffffff", "stroke": "#a5a5a5", "strokeWidth": 1},
    "axis": {"grid": false, "labelFont": "Liberation Sans", "titleFont": "Liberation Sans", "labelColor": "#1a1a1a", "titleColor": "#1a1a1a"},
    "legend": {"labelFont": "Liberation Sans", "titleFont": "Liberation Sans", "labelFontSize": 12, "labelColor": "#111111", "titleFontSize": 12, "titleFontWeight": "normal", "titleColor": "#111111"}
  }
}
